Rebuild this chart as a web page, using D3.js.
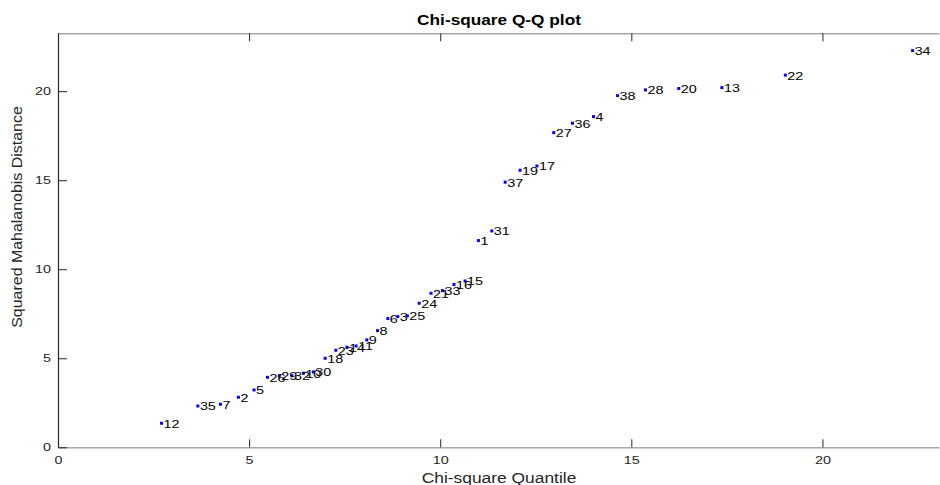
<!DOCTYPE html>
<html><head><meta charset="utf-8">
<script src="https://cdn.jsdelivr.net/npm/d3@7"></script>
<style>body{margin:0;background:#fff}svg{display:block;font-family:"Liberation Sans",Arial,sans-serif}</style>
</head><body><div id="chart"></div>
<script>
const labels = ["12","35","7","2","5","26","29","32","10","30","18","23","14","11","9","8","6","3","25","24","21","33","16","15","1","31","37","19","17","27","36","4","38","28","20","13","22","34"];
const quantiles = [2.71,3.66,4.25,4.72,5.13,5.48,5.79,6.12,6.42,6.68,6.99,7.27,7.56,7.80,8.08,8.36,8.63,8.89,9.14,9.45,9.76,10.06,10.36,10.65,11.00,11.35,11.70,12.09,12.53,12.97,13.46,14.01,14.64,15.37,16.24,17.37,19.03,22.36];
const distances = [1.35,2.32,2.42,2.81,3.22,3.93,4.02,4.02,4.16,4.23,5.00,5.45,5.62,5.69,6.03,6.55,7.23,7.34,7.38,8.09,8.65,8.80,9.14,9.34,11.61,12.15,14.89,15.56,15.80,17.67,18.20,18.57,19.75,20.07,20.15,20.20,20.90,22.28];
const xTicks = [0,5,10,15,20];
const yTicks = [0,5,10,15,20];

const W = 940, H = 485;
const m = {left:58, right:1, top:33.3, bottom:37.7};
const SX = 1.25;
const svg = d3.select("#chart").append("svg").attr("width",W).attr("height",H);
const x = d3.scaleLinear().domain([0,23.05]).range([m.left, W-m.right]);
const y = d3.scaleLinear().domain([0,23.25]).range([H-m.bottom, m.top]);

const gx = svg.append("g").attr("transform",`translate(0,${y(0)})`)
  .call(d3.axisBottom(x).tickValues(xTicks).tickSizeInner(-8).tickSizeOuter(0).tickPadding(9));
gx.select(".domain").attr("stroke","#a6a6a6").attr("stroke-width",1.5);
gx.selectAll(".tick line").attr("stroke","#262626");
gx.selectAll(".tick text").attr("font-size",11.5).attr("fill","#262626")
  .attr("font-family","Liberation Sans, Arial, sans-serif").attr("transform",`scale(${SX},1)`);

const gt = svg.append("g").attr("transform",`translate(0,${y(23.25)})`)
  .call(d3.axisTop(x).tickValues(xTicks).tickSizeInner(-8).tickSizeOuter(0).tickFormat(""));
gt.select(".domain").attr("stroke","#a6a6a6").attr("stroke-width",1.5);
gt.selectAll(".tick line").attr("stroke","#262626");

const gy = svg.append("g").attr("transform",`translate(${x(0)},0)`)
  .call(d3.axisLeft(y).tickValues(yTicks).tickSizeInner(-9).tickSizeOuter(0).tickPadding(7));
gy.select(".domain").attr("stroke","#262626").attr("stroke-width",1.2);
gy.selectAll(".tick line").attr("stroke","#262626");
gy.selectAll(".tick text").attr("font-size",11.5).attr("fill","#262626")
  .attr("font-family","Liberation Sans, Arial, sans-serif")
  .attr("x",-7/SX).attr("transform",`scale(${SX},1)`);

const data = labels.map((l,i)=>({l, q:quantiles[i], d:distances[i]}));
svg.append("g").selectAll("rect").data(data).join("rect")
  .attr("x",d=>x(d.q)-1.5).attr("y",d=>y(d.d)-1.5).attr("width",3).attr("height",3).attr("fill","#0000ff");
svg.append("g").selectAll("text").data(data).join("text")
  .attr("transform",d=>`translate(${x(d.q)+2},${y(d.d)}) scale(${SX},1)`)
  .attr("dy","0.38em").attr("font-size",11.5).attr("fill","#000").text(d=>d.l);

svg.append("text").attr("transform",`translate(${(x(0)+W)/2},25) scale(1.15,1)`).attr("text-anchor","middle")
  .attr("font-size",15).attr("font-weight","bold").attr("fill","#000").text("Chi-square Q-Q plot");
svg.append("text").attr("transform",`translate(${(x(0)+W)/2},482.5) scale(1.2,1)`).attr("text-anchor","middle")
  .attr("font-size",14.5).attr("fill","#262626").text("Chi-square Quantile");
svg.append("text").attr("transform",`translate(22,217) rotate(-90) scale(1.1,1)`).attr("text-anchor","middle")
  .attr("font-size",14.5).attr("fill","#262626").text("Squared Mahalanobis Distance");
</script></body></html>
